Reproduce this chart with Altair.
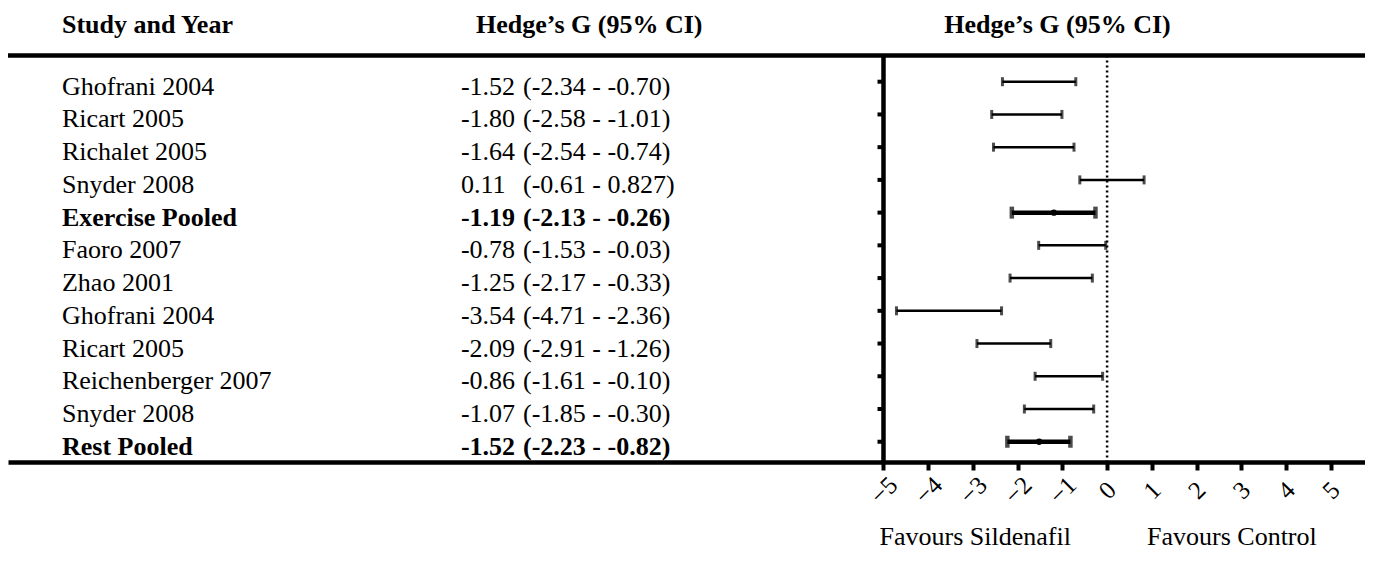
import altair as alt
import pandas as pd

# ---------------- data ----------------
studies = ["Ghofrani 2004", "Ricart 2005", "Richalet 2005", "Snyder 2008",
           "Exercise Pooled", "Faoro 2007", "Zhao 2001", "Ghofrani 2004",
           "Ricart 2005", "Reichenberger 2007", "Snyder 2008", "Rest Pooled"]
est_txt = ["-1.52", "-1.80", "-1.64", "0.11", "-1.19", "-0.78", "-1.25",
           "-3.54", "-2.09", "-0.86", "-1.07", "-1.52"]
lo_txt = ["-2.34", "-2.58", "-2.54", "-0.61", "-2.13", "-1.53", "-2.17",
          "-4.71", "-2.91", "-1.61", "-1.85", "-2.23"]
hi_txt = ["-0.70", "-1.01", "-0.74", "0.827", "-0.26", "-0.03", "-0.33",
          "-2.36", "-1.26", "-0.10", "-0.30", "-0.82"]
pooled = [False, False, False, False, True, False, False, False, False,
          False, False, True]
x_ticks = [-5, -4, -3, -2, -1, 0, 1, 2, 3, 4, 5]

header_left = "Study and Year"
header_mid = "Hedge\u2019s G (95% CI)"
header_right = "Hedge\u2019s G (95% CI)"
favours = ["Favours Sildenafil", "Favours Control"]

# ---------------- layout constants ----------------
FONT = "Liberation Serif"
XMIN, XMAX = -24.577, 5.767
YMIN, YMAX = -1.252, 12.619
TOP_ROW = 0.2
X_NAME, X_EST, X_CI = -23.37, -14.45, -13.06
X_H2, X_H3 = -11.58, -1.11
X_FAV = [-2.95, 2.79]
Y_HEAD = -0.49
Y_FAV = 15.17

df = pd.DataFrame({
    "study": studies,
    "est_txt": est_txt,
    "ci_txt": ["(" + a + " - " + b + ")" for a, b in zip(lo_txt, hi_txt)],
    "est": [float(v) for v in est_txt],
    "lo": [float(v) for v in lo_txt],
    "hi": [float(v) for v in hi_txt],
    "pooled": pooled,
    "row": list(range(1, len(studies) + 1)),
})
df["xn"] = X_NAME
df["xe"] = X_EST
df["xc"] = X_CI
df["tick0"] = -5.134
df["tick1"] = -5.0

caps = pd.concat([
    df[["row", "pooled"]].assign(x=df["lo"]),
    df[["row", "pooled"]].assign(x=df["hi"]),
])

xs = alt.Scale(domain=[XMIN, XMAX], nice=False, zero=False)
ys = alt.Scale(domain=[YMIN, YMAX], nice=False, zero=False, reverse=True)
xaxis = alt.Axis(values=x_ticks, title=None, grid=False, labelAngle=315,
                 labelAlign="center", labelBaseline="middle", labelPadding=20,
                 labelFont=FONT, labelFontSize=25, labelColor="black",
                 domainColor="black", domainWidth=4.5, tickColor="black",
                 tickWidth=4, tickSize=8, format="d")


def X(f):
    return alt.X(f, type="quantitative", scale=xs, axis=xaxis)


def Y(f):
    return alt.Y(f, type="quantitative", scale=ys, axis=None)


base = alt.Chart(df)
normal = base.transform_filter("!datum.pooled")
pool = base.transform_filter("datum.pooled")

frame = pd.DataFrame({"x0": [XMIN], "x1": [XMAX], "xv": [-5.0], "xz": [0.0],
                      "yt": [TOP_ROW], "yb": [YMAX]})
fr = alt.Chart(frame)

top_line = fr.mark_rule(color="black", strokeWidth=4.5).encode(
    x=X("x0"), x2="x1", y=Y("yt"))
v_line = fr.mark_rule(color="black", strokeWidth=4.5).encode(
    x=X("xv"), y=Y("yt"), y2="yb")
zero_line = fr.mark_rule(color="black", strokeWidth=2.5, strokeDash=[2, 3]).encode(
    x=X("xz"), y=Y("yt"), y2="yb")
y_ticks = base.mark_rule(color="black", strokeWidth=4).encode(
    x=X("tick0"), x2="tick1", y=Y("row"))

bars_n = normal.mark_rule(color="black", strokeWidth=2.5).encode(
    x=X("lo"), x2="hi", y=Y("row"))
bars_p = pool.mark_rule(color="black", strokeWidth=4.5).encode(
    x=X("lo"), x2="hi", y=Y("row"))
caps_n = alt.Chart(caps).transform_filter("!datum.pooled").mark_tick(
    color="black", orient="vertical", size=9, thickness=3).encode(
    x=X("x"), y=Y("row"))
caps_p = alt.Chart(caps).transform_filter("datum.pooled").mark_tick(
    color="black", orient="vertical", size=12, thickness=4.5).encode(
    x=X("x"), y=Y("row"))
dots = pool.mark_circle(color="black", size=40, opacity=1).encode(
    x=X("est"), y=Y("row"))

txt_kw = dict(font=FONT, fontSize=26, color="black", align="left",
              baseline="alphabetic", dy=13)
names_n = normal.mark_text(**txt_kw).encode(x=X("xn"), y=Y("row"), text="study")
names_p = pool.mark_text(fontWeight="bold", **txt_kw).encode(
    x=X("xn"), y=Y("row"), text="study")
est_n = normal.mark_text(**txt_kw).encode(x=X("xe"), y=Y("row"), text="est_txt")
est_p = pool.mark_text(fontWeight="bold", **txt_kw).encode(
    x=X("xe"), y=Y("row"), text="est_txt")
ci_n = normal.mark_text(**txt_kw).encode(x=X("xc"), y=Y("row"), text="ci_txt")
ci_p = pool.mark_text(fontWeight="bold", **txt_kw).encode(
    x=X("xc"), y=Y("row"), text="ci_txt")

heads = pd.DataFrame({
    "t": [header_left, header_mid, header_right],
    "x": [X_NAME, X_H2, X_H3],
    "y": [Y_HEAD] * 3,
})
head_l = alt.Chart(heads.iloc[[0]]).mark_text(
    font=FONT, fontSize=26, fontWeight="bold", color="black", align="left",
    baseline="alphabetic").encode(x=X("x"), y=Y("y"), text="t")
head_c = alt.Chart(heads.iloc[1:]).mark_text(
    font=FONT, fontSize=26, fontWeight="bold", color="black", align="center",
    baseline="alphabetic").encode(x=X("x"), y=Y("y"), text="t")

fav = pd.DataFrame({"t": favours, "x": X_FAV, "y": [Y_FAV] * 2})
fav_t = alt.Chart(fav).mark_text(
    font=FONT, fontSize=26, color="black", align="center",
    baseline="alphabetic").encode(x=X("x"), y=Y("y"), text="t")

chart = alt.layer(
    top_line, v_line, zero_line, y_ticks, bars_n, bars_p, caps_n, caps_p, dots,
    names_n, names_p, est_n, est_p, ci_n, ci_p, head_l, head_c, fav_t,
).properties(
    width=1357, height=454,
    autosize=alt.AutoSizeParams(type="none"),
    padding={"left": 0, "top": 0, "right": 0, "bottom": 92},
    background="white",
).configure_view(stroke=None)

chart.save("out.html", embed_options={"renderer": "svg", "actions": False})
